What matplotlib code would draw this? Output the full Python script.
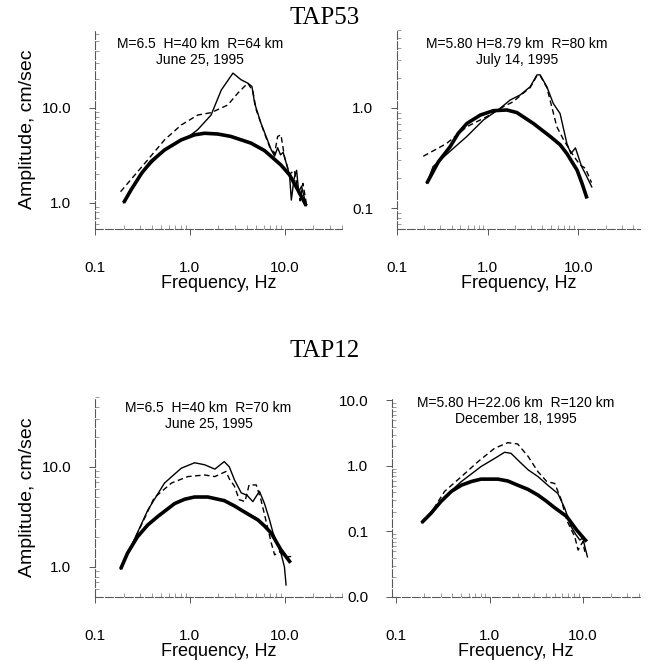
import numpy as np
import matplotlib
matplotlib.use("Agg")
import matplotlib.pyplot as plt
from matplotlib.ticker import LogLocator, FormatStrFormatter, NullFormatter

# TAP53, June 25 1995 (top left)
tl_model_f = [0.20, 0.24, 0.31, 0.39, 0.54, 0.81, 1.12, 1.43, 1.97, 2.7, 4.4, 6.1, 7.2,
              9.1, 11.2, 13.7, 16.8]
tl_model_a = [1.0, 1.37, 2.05, 2.72, 3.6, 4.6, 5.2, 5.4, 5.3, 5.0, 4.25, 3.55, 3.07,
              2.5, 1.97, 1.37, 0.93]
tl_obs_f = [0.20, 0.31, 0.54, 0.81, 1.0, 1.21, 1.67, 2.14, 2.84, 3.47, 4.07, 4.5, 4.8,
            5.6, 7.2, 7.8, 8.4, 9.0, 9.6, 11.2, 11.7, 12.5, 13.3, 14.0, 15.0, 16.8]
tl_obs_a = [1.0, 2.05, 3.6, 4.6, 5.1, 5.9, 8.4, 15.4, 23.2, 19.7, 18.2, 16.8, 11.2,
            6.9, 3.6, 3.1, 3.8, 3.2, 3.4, 1.97, 1.07, 1.8, 2.2, 1.3, 1.5, 0.93]
tl_alt_f = [0.186, 0.36, 0.54, 0.81, 1.21, 1.67, 2.5, 3.2, 4.07, 4.6, 5.0, 6.1, 6.9,
            7.8, 8.4, 9.1, 9.9, 11.2, 12.6, 13.6, 14.5, 15.5, 16.8]
tl_alt_a = [1.31, 2.84, 4.6, 6.6, 8.4, 8.9, 10.7, 14.3, 18.2, 15.0, 9.5, 5.4, 3.9,
            3.3, 5.0, 5.2, 3.07, 2.0, 2.2, 1.4, 1.05, 1.6, 1.0]

# TAP53, July 14 1995 (top right)
tr_model_f = [0.213, 0.286, 0.385, 0.475, 0.59, 0.83, 1.16, 1.63, 2.1, 3.2, 4.9, 6.3,
              7.5, 9.7, 11.0, 12.5]
tr_model_a = [0.177, 0.29, 0.41, 0.56, 0.70, 0.85, 0.94, 0.955, 0.90, 0.70, 0.52, 0.43,
              0.35, 0.24, 0.177, 0.125]
tr_obs_f = [0.213, 0.25, 0.385, 0.59, 0.9, 1.37, 1.77, 2.29, 2.95, 3.5, 3.8, 4.5, 5.3,
            6.3, 7.5, 8.3, 9.3, 10.9, 12.0, 14.1]
tr_obs_a = [0.177, 0.26, 0.37, 0.52, 0.76, 0.99, 1.2, 1.35, 1.63, 2.14, 2.14, 1.63, 1.11,
            0.88, 0.44, 0.35, 0.40, 0.26, 0.22, 0.163]
tr_alt_f = [0.195, 0.35, 0.59, 0.98, 1.49, 1.9, 2.3, 2.95, 3.5, 3.8, 4.5, 5.1, 5.8,
            6.9, 8.9, 10.5, 12.0, 14.0]
tr_alt_a = [0.33, 0.44, 0.65, 0.82, 1.03, 1.15, 1.33, 1.6, 2.1, 2.1, 1.6, 1.03, 0.65,
            0.48, 0.33, 0.27, 0.25, 0.18]

# TAP12, June 25 1995 (bottom left)
bl_model_f = [0.186, 0.22, 0.28, 0.36, 0.46, 0.69, 0.88, 1.12, 1.54, 2.3, 2.95, 3.47,
              5.2, 6.1, 7.2, 9.1, 11.5]
bl_model_a = [0.95, 1.37, 2.0, 2.63, 3.2, 4.3, 4.75, 5.0, 5.0, 4.6, 4.07, 3.7,
              2.95, 2.57, 2.17, 1.48, 1.1]
bl_obs_f = [0.186, 0.24, 0.36, 0.54, 0.81, 1.12, 1.43, 1.83, 2.3, 2.6, 2.95, 3.47, 4.0,
            4.6, 5.4, 6.1, 6.9, 7.5, 9.1, 9.9, 10.3]
bl_obs_a = [0.95, 1.6, 3.7, 6.9, 9.7, 11.0, 10.5, 9.5, 11.3, 10.0, 7.4, 5.5, 5.2,
            4.5, 5.7, 4.3, 2.95, 2.2, 1.37, 1.0, 0.66]
bl_alt_f = [0.186, 0.28, 0.42, 0.64, 0.95, 1.43, 1.83, 2.4, 2.6, 2.95, 3.3, 3.8, 4.2,
            5.0, 5.6, 6.3, 7.2, 7.8, 8.8, 9.9, 11.7]
bl_alt_a = [0.95, 2.17, 4.9, 6.9, 8.0, 8.3, 8.0, 9.0, 7.6, 6.4, 4.7, 4.5, 6.6,
            6.6, 4.7, 2.95, 1.73, 1.32, 1.42, 1.26, 1.27]

# TAP12, December 18 1995 (bottom right)
br_model_f = [0.187, 0.236, 0.30, 0.39, 0.50, 0.64, 0.81, 1.23, 1.57, 2.0, 2.58, 3.3,
              4.07, 5.0, 6.7, 8.6, 11.0]
br_model_a = [0.136, 0.19, 0.285, 0.41, 0.51, 0.58, 0.63, 0.63, 0.59, 0.51, 0.44, 0.36,
              0.29, 0.23, 0.17, 0.105, 0.07]
br_obs_f = [0.187, 0.33, 0.5, 0.81, 1.13, 1.45, 1.7, 2.1, 2.6, 3.3, 4.2, 5.4, 6.4,
            7.5, 8.4, 9.3, 10.0, 10.5, 11.2]
br_obs_a = [0.136, 0.34, 0.58, 0.98, 1.3, 1.62, 1.56, 1.16, 0.87, 0.69, 0.51, 0.38, 0.226,
            0.118, 0.09, 0.074, 0.08, 0.059, 0.041]
br_alt_f = [0.25, 0.33, 0.5, 0.75, 1.13, 1.57, 2.0, 2.6, 3.3, 4.1, 5.0, 5.9, 6.7,
            8.2, 8.9, 9.4, 10.0, 10.5]
br_alt_a = [0.22, 0.41, 0.69, 1.16, 1.86, 2.27, 2.17, 1.39, 0.82, 0.58, 0.54, 0.30, 0.15,
            0.083, 0.052, 0.06, 0.07, 0.049]

W, H = 651, 662


def make_axes(fig, left, right, top, bottom):
    return fig.add_axes([left / W, 1 - bottom / H, (right - left) / W, (bottom - top) / H])


def style(ax, xlim, ylim):
    ax.set_xscale('log')
    ax.set_yscale('log')
    ax.set_xlim(*xlim)
    ax.set_ylim(*ylim)
    for s in ['top', 'right']:
        ax.spines[s].set_visible(False)
    for s in ['left', 'bottom']:
        ax.spines[s].set_color('0.35')
        ax.spines[s].set_linewidth(0.8)
        ax.spines[s].set_linestyle((0, (7, 2)))
    ax.xaxis.set_major_locator(LogLocator(base=10, numticks=10))
    ax.yaxis.set_major_locator(LogLocator(base=10, numticks=10))
    ax.xaxis.set_major_formatter(FormatStrFormatter('%.1f'))
    ax.yaxis.set_major_formatter(FormatStrFormatter('%.1f'))
    ax.xaxis.set_minor_formatter(NullFormatter())
    ax.yaxis.set_minor_formatter(NullFormatter())
    ax.tick_params(axis='x', which='major', direction='out', length=4, width=0.7,
                   color='0.35', pad=19, labelsize=11)
    ax.tick_params(axis='y', which='major', direction='out', length=4, width=0.7,
                   color='0.35', pad=13, labelsize=11)
    ax.tick_params(which='minor', direction='in', length=3, width=0.5, color='0.45')
    ax.set_xlabel('Frequency, Hz', fontsize=13, labelpad=0)


def draw(ax, mf, ma, of, oa, af, aa):
    ax.plot(mf, ma, color='black', lw=2.6, solid_capstyle='butt', solid_joinstyle='round')
    ax.plot(of, oa, color='black', lw=1.0)
    ax.plot(af, aa, color='black', lw=1.0, linestyle=(0, (4, 2.5)))


def main():
    plt.rcParams['font.family'] = ['Liberation Sans', 'DejaVu Sans']
    fig = plt.figure(figsize=(6.51, 6.62), dpi=100)

    ax1 = make_axes(fig, 95, 342, 30, 229)
    style(ax1, (0.1, 40), (0.53, 66))
    draw(ax1, tl_model_f, tl_model_a, tl_obs_f, tl_obs_a, tl_alt_f, tl_alt_a)
    ax1.set_ylabel('Amplitude, cm/sec', fontsize=14, labelpad=4)
    ax1.text(0.425, 0.89, 'M=6.5  H=40 km  R=64 km\nJune 25, 1995', transform=ax1.transAxes,
             ha='center', va='center', fontsize=10, linespacing=1.25)

    ax2 = make_axes(fig, 397, 640, 30, 229)
    style(ax2, (0.1, 48), (0.062, 6.0))
    draw(ax2, tr_model_f, tr_model_a, tr_obs_f, tr_obs_a, tr_alt_f, tr_alt_a)
    ax2.text(0.494, 0.89, 'M=5.80 H=8.79 km  R=80 km\nJuly 14, 1995', transform=ax2.transAxes,
             ha='center', va='center', fontsize=10, linespacing=1.25)

    ax3 = make_axes(fig, 95, 342, 397, 597)
    style(ax3, (0.1, 40), (0.5, 50))
    draw(ax3, bl_model_f, bl_model_a, bl_obs_f, bl_obs_a, bl_alt_f, bl_alt_a)
    ax3.set_ylabel('Amplitude, cm/sec', fontsize=14, labelpad=4)
    ax3.text(0.46, 0.905, 'M=6.5  H=40 km  R=70 km\nJune 25, 1995', transform=ax3.transAxes,
             ha='center', va='center', fontsize=10, linespacing=1.2)

    ax4 = make_axes(fig, 392, 640, 397, 597)
    style(ax4, (0.09, 41), (0.01, 11.3))
    draw(ax4, br_model_f, br_model_a, br_obs_f, br_obs_a, br_alt_f, br_alt_a)
    ax4.text(0.5, 0.93, 'M=5.80 H=22.06 km  R=120 km\nDecember 18, 1995',
             transform=ax4.transAxes, ha='center', va='center', fontsize=10, linespacing=1.2)

    fig.text(325 / W, 1 - 18 / H, 'TAP53', family='Liberation Serif', fontsize=18,
             ha='center', va='center')
    fig.text(325 / W, 1 - 351 / H, 'TAP12', family='Liberation Serif', fontsize=18,
             ha='center', va='center')

    fig.savefig('out.png', dpi=100)


if __name__ == "__main__":
    main()
